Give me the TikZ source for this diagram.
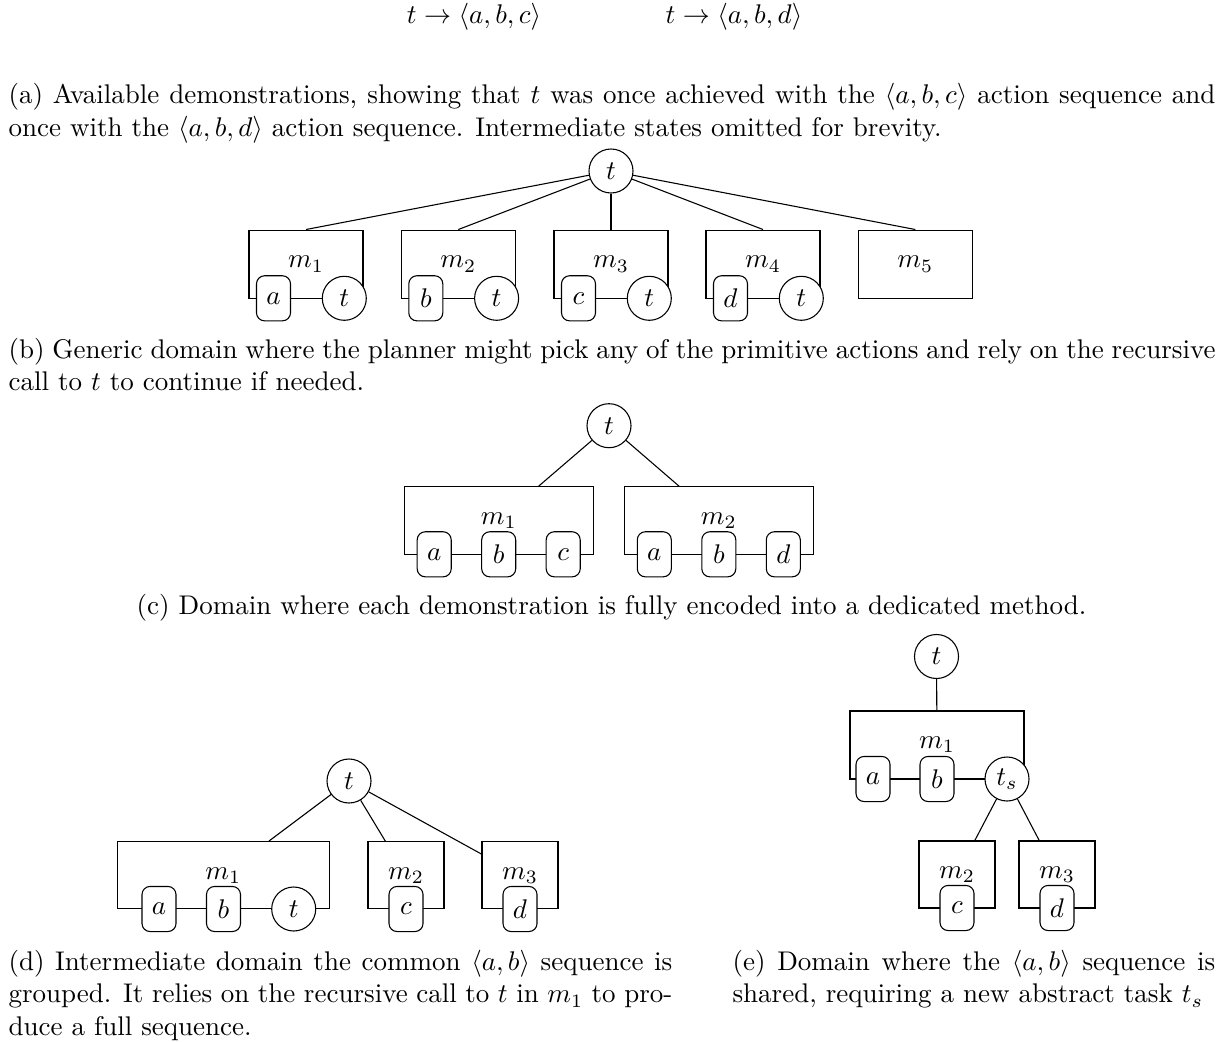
\documentclass[tikz,border=0pt]{standalone}
\begin{document}
\begin{tikzpicture}[x=0.37034pt,y=-0.37034pt,
  task/.style={circle,draw,fill=white,minimum size=16.3pt,inner sep=1pt},
  prim/.style={draw,fill=white,rounded corners=3pt,minimum width=12.6pt,minimum height=16.7pt,inner sep=1pt},
  meth/.style n args={2}{draw,rectangle,inner sep=0pt,minimum width=#1,minimum height=#2},
  captxt/.style={anchor=north west,inner sep=0pt,align=justify,font=\fontsize{10}{12}\selectfont},
]
\useasboundingbox (0,0) rectangle (1223,1041);

% ---------- (a)
\node[anchor=base] (f1) at (474,24) {$t\rightarrow\langle a,b,c\rangle$};
\node[anchor=base] (f2) at (734,24) {$t\rightarrow\langle a,b,d\rangle$};
\node[captxt,text width=447pt] (capa) at (8,83) {\noindent(a) Available demonstrations, showing that $t$ was once achieved with the $\langle a,b,c\rangle$ action sequence and\linebreak once with the $\langle a,b,d\rangle$ action sequence. Intermediate states omitted for brevity.};

% ---------- (b)
\node[task] (bt) at (611,171) {$t$};
\foreach \i/\x in {1/306,2/458.3,3/611,4/763,5/915.3}{
  \node[meth={42.22pt}{25.29pt}] (bm\i) at (\x,264.2) {$m_\i$};
}
\foreach \i in {1,...,5}{ \draw (bt) -- (bm\i.north); }
\node[prim] (ba) at (273.5,298.3) {$a$};
\node[task] (bt1) at (344.3,298.3) {$t$};
\node[prim] (bb) at (425.8,298.3) {$b$};
\node[task] (bt2) at (496.6,298.3) {$t$};
\node[prim] (bc) at (578.5,298.3) {$c$};
\node[task] (bt3) at (649.3,298.3) {$t$};
\node[prim] (bd) at (730.5,298.3) {$d$};
\node[task] (bt4) at (801.3,298.3) {$t$};
\node[captxt,text width=447pt] (capb) at (8,337.25) {\noindent(b) Generic domain where the planner might pick any of the primitive actions and rely on the recursive\linebreak call to $t$ to continue if needed.};

% ---------- (c)
\node[task] (ct) at (609,425.7) {$t$};
\node[meth={70pt}{25.03pt}] (cm1) at (498.7,520.5) {$m_1$};
\node[meth={70pt}{25.03pt}] (cm2) at (718.8,520.5) {$m_2$};
\draw (ct) -- (cm1);
\draw (ct) -- (cm2);
\node[prim] (ca1) at (434.2,554.3) {$a$};
\node[prim] (cb1) at (498.7,554.3) {$b$};
\node[prim] (cc1) at (563.2,554.3) {$c$};
\node[prim] (ca2) at (654.3,554.3) {$a$};
\node[prim] (cb2) at (718.8,554.3) {$b$};
\node[prim] (cd2) at (783.3,554.3) {$d$};
\node[anchor=base,inner sep=0pt,font=\fontsize{10}{12}\selectfont] (capc) at (611.5,614.7) {(c) Domain where each demonstration is fully encoded into a dedicated method.};

% ---------- (d)
\node[task] (dt) at (349,781) {$t$};
\node[meth={78.51pt}{24.92pt}] (dm1) at (223.3,875.3) {$m_1$};
\node[meth={28.15pt}{24.92pt}] (dm2) at (406,875.3) {$m_2$};
\node[meth={28.15pt}{24.92pt}] (dm3) at (520,875.3) {$m_3$};
\draw (dt) -- (dm1);
\draw (dt) -- (dm2);
\draw (dt) -- (dm3);
\node[prim] (da) at (159,909) {$a$};
\node[prim] (db) at (223.5,909) {$b$};
\node[task] (dtt) at (293.7,909) {$t$};
\node[prim] (dc) at (406,909) {$c$};
\node[prim] (dd) at (520,909) {$d$};
\node[captxt,text width=245.85pt] (capd) at (8,949.75) {\noindent(d) Intermediate domain the common $\langle a,b\rangle$ sequence is\linebreak grouped. It relies on the recursive call to $t$ in $m_1$ to pro-\linebreak duce a full sequence.};

% ---------- (e)
\node[task] (et) at (936.5,656.5) {$t$};
\node[meth={64.44pt}{25.18pt}] (em1) at (937,745) {$m_1$};
\draw (et) -- (em1);
\node[prim] (ea) at (873,779) {$a$};
\node[prim] (eb) at (937,779) {$b$};
\node[task] (ets) at (1007,779) {$t_s$};
\node[meth={28.15pt}{24.81pt}] (em2) at (957,874.5) {$m_2$};
\node[meth={28.15pt}{24.81pt}] (em3) at (1057,874.5) {$m_3$};
\draw (ets) -- (em2);
\draw (ets) -- (em3);
\node[prim] (ec) at (957,908) {$c$};
\node[prim] (ed) at (1057,908) {$d$};
\node[captxt,text width=178.8pt] (cape) at (732,949.75) {\noindent(e) Domain where the $\langle a,b\rangle$ sequence is\linebreak shared, requiring a new abstract task $t_s$};
\end{tikzpicture}
\end{document}
